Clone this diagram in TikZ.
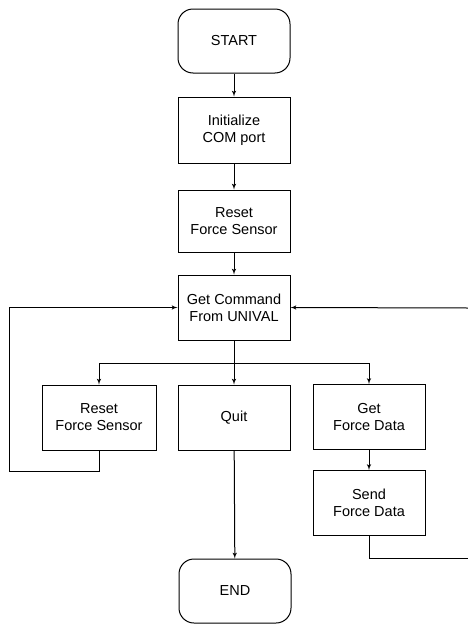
\documentclass[tikz,border=0pt]{standalone}
\usepackage{fontspec}
\setmainfont{Liberation Sans}
\usetikzlibrary{shapes, arrows}
\tikzstyle{line} = [draw,-latex']
\tikzstyle{block}=[draw, rectangle, minimum width=112pt, minimum height=65pt, align=center, font=\fontsize{14.5}{17}\selectfont]
\tikzstyle{terminal}=[block, rounded corners=15pt, minimum height=64pt]

\begin{document}
\begin{tikzpicture}[x=1pt, y=-1pt, line width=1pt]
		\useasboundingbox (0,0) rectangle (468,624);
		\node[terminal] (start) at (234,41) {START};
		\node[block, minimum height=66pt] (init) at (234,130) {Initialize\\COM port};
		\node[block, minimum height=62pt] (reset) at (234,221) {Reset\\Force Sensor};
		\node[block] (cmd) at (234,307.5) {Get Command\\From UNIVAL};
	%--------------------
		\node[block, minimum width=114pt] (resetb) at (99,417.5) {Reset\\Force Sensor};
		\node[block] (quit) at (234,417.5) {Quit};
		\node[block] (getdata) at (369,417) {Get\\Force Data};
		\node[block] (send) at (369,503) {Send\\Force Data};
		\node[terminal] (end) at (235,591) {END};
	%--------------------
		\coordinate (fork) at (234,363);
		\coordinate (loopL) at (9,471);
		\coordinate (inR) at (468,308);
		\coordinate (outR) at (468,558);
		\draw[line] (start) -- (init);
		\draw[line] (init) -- (reset);
		\draw[line] (reset) -- (cmd);
		\draw[line] (cmd) -- (quit);
		\draw[line] (fork) -| (resetb.north);
		\draw[line] (fork) -| (getdata.north);
		\draw[line] (quit) -- (end);
		\draw[line] (getdata) -- (send);
		\draw[line] (resetb.south) |- (loopL) |- (cmd.west);
		\draw (send.south) |- (outR);
		\draw[line] (inR) -- (cmd.east);
	\end{tikzpicture}
\end{document}
